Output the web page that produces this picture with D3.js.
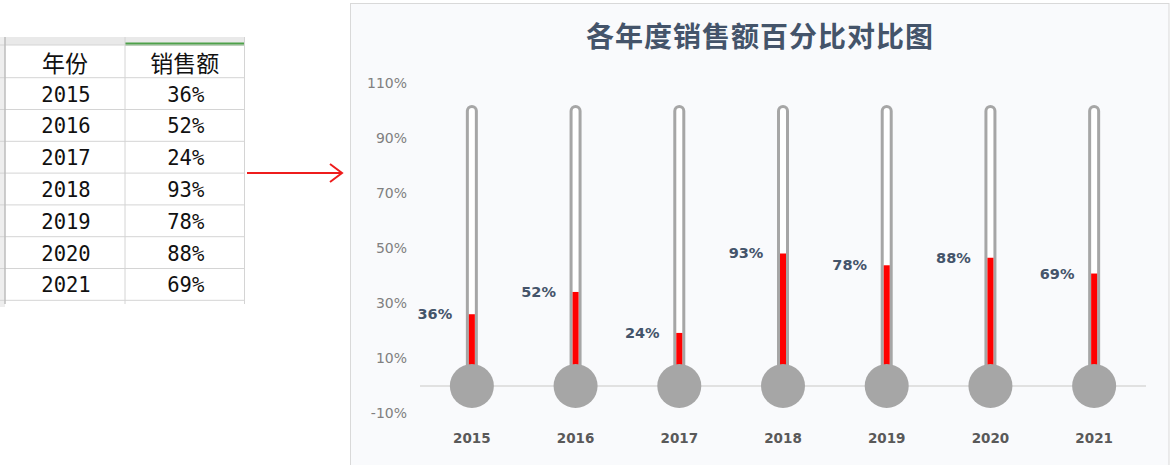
<!DOCTYPE html>
<html>
<head>
<meta charset="utf-8">
<script src="https://cdn.jsdelivr.net/npm/d3@7"></script>
<style>
  body { margin: 0; background: #fff; }
  svg { display: block; }
</style>
</head>
<body>
<div id="chart"></div>
<script>
// data
var years = ["2015", "2016", "2017", "2018", "2019", "2020", "2021"];
var sales = [0.36, 0.52, 0.24, 0.93, 0.78, 0.88, 0.69];
// height of the red column as it is drawn in the chart
var fillLevel = [0.261, 0.342, 0.193, 0.482, 0.439, 0.466, 0.409];
var tubeTop = 1.0;
var yTicks = [-0.1, 0.1, 0.3, 0.5, 0.7, 0.9, 1.1];
var tableHeader = ["年份", "销售额"];

var svgWidth = 1174;
var svgHeight = 465;

var svg = d3.select("#chart")
  .append("svg")
  .attr("width", svgWidth)
  .attr("height", svgHeight);

// ---- the spreadsheet on the left ----
var table = svg.append("g");
var colX = [5, 125, 244.5];
var headTop = 45, headH = 32.7, rowH = 31.8;
var rowsY = [headTop, headTop + headH];
years.forEach(function(d, i) { rowsY.push(headTop + headH + rowH * (i + 1)); });

// column header band + row header strip
table.append("rect").attr("x", 0).attr("y", 37).attr("width", 244.5).attr("height", 8).attr("fill", "#e9e9e9");
table.append("rect").attr("x", 0).attr("y", 37).attr("width", 5).attr("height", 270).attr("fill", "#eeeeee");
table.append("line").attr("x1", 125).attr("x2", 244.5).attr("y1", 44).attr("y2", 44)
  .attr("stroke", "#4ea24a").attr("stroke-width", 3);

table.selectAll(".hline")
  .data(rowsY)
  .enter()
  .append("line")
  .attr("x1", 0).attr("x2", 244.5)
  .attr("y1", d => d).attr("y2", d => d)
  .attr("stroke", "#d4d4d4").attr("stroke-width", 1);

table.selectAll(".vline")
  .data(colX)
  .enter()
  .append("line")
  .attr("x1", d => d).attr("x2", d => d)
  .attr("y1", 37).attr("y2", 304)
  .attr("stroke", d => d === 5 ? "#bdbdbd" : "#d4d4d4").attr("stroke-width", d => d === 5 ? 1.5 : 1);

table.selectAll(".head")
  .data(tableHeader)
  .enter()
  .append("text")
  .attr("x", (d, i) => (colX[i] + colX[i + 1]) / 2)
  .attr("y", headTop + headH / 2 + 1)
  .attr("text-anchor", "middle")
  .attr("dominant-baseline", "central")
  .attr("font-family", "Noto Sans CJK SC")
  .attr("font-size", "23px")
  .attr("fill", "#111")
  .text(d => d);

years.forEach(function(yr, i) {
  var cy = headTop + headH + rowH * i + rowH / 2 + 1;
  [yr, Math.round(sales[i] * 100) + "%"].forEach(function(t, c) {
    table.append("text")
      .attr("x", (colX[c] + colX[c + 1]) / 2 + 1)
      .attr("y", cy)
      .attr("text-anchor", "middle")
      .attr("dominant-baseline", "central")
      .attr("font-family", "DejaVu Sans Mono")
      .attr("font-size", "20.5px")
      .attr("fill", "#111")
      .text(t);
  });
});

// red arrow
var arrow = svg.append("g").attr("stroke", "#ee1c1c").attr("stroke-width", 2).attr("fill", "none");
arrow.append("line").attr("x1", 247).attr("x2", 341).attr("y1", 173).attr("y2", 173);
arrow.append("polyline").attr("points", "330,164 342,173 330,182");

// ---- the thermometer chart ----
svg.append("rect")
  .attr("x", 350.5).attr("y", 3.5)
  .attr("width", 818.5).attr("height", 470)
  .attr("fill", "#f9fafc")
  .attr("stroke", "#d9d9d9");

svg.append("text")
  .attr("x", 760)
  .attr("y", 35)
  .attr("text-anchor", "middle")
  .attr("dominant-baseline", "central")
  .attr("font-family", "Noto Sans CJK SC")
  .attr("font-weight", "bold")
  .attr("font-size", "28px")
  .attr("letter-spacing", "1px")
  .attr("fill", "#44546a")
  .text("各年度销售额百分比对比图");

var x = d3.scaleBand().domain(years).range([420, 1146]);
var y = d3.scaleLinear().domain([-0.1, 1.1]).range([413.5, 83.5]);

// y axis
var yAxis = svg.append("g")
  .attr("transform", "translate(420,0)")
  .call(d3.axisLeft(y).tickValues(yTicks)
    .tickFormat(d => Math.round(d * 100) + "%")
    .tickSize(0).tickPadding(13));
yAxis.select(".domain").remove();
yAxis.selectAll("text")
  .attr("font-family", "DejaVu Sans")
  .attr("font-size", "14px")
  .attr("fill", "#808080");

// baseline at 0%
svg.append("line")
  .attr("x1", 420).attr("x2", 1146)
  .attr("y1", y(0)).attr("y2", y(0))
  .attr("stroke", "#d9d9d9").attr("stroke-width", 1.5);

// x axis labels
var xAxis = svg.append("g")
  .attr("transform", "translate(0,438)")
  .call(d3.axisBottom(x).tickSize(0).tickPadding(0));
xAxis.select(".domain").remove();
xAxis.selectAll("text")
  .attr("y", 0)
  .attr("dy", "0.35em")
  .attr("font-family", "DejaVu Sans")
  .attr("font-weight", "bold")
  .attr("font-size", "13.5px")
  .attr("fill", "#595959");

var cx = d => x(d) + x.bandwidth() / 2;

var therm = svg.append("g").selectAll("g")
  .data(years)
  .enter()
  .append("g");

// tube outline
therm.append("line")
  .attr("x1", cx).attr("x2", cx)
  .attr("y1", y(0)).attr("y2", y(tubeTop))
  .attr("stroke", "#a6a6a6").attr("stroke-width", 12)
  .attr("stroke-linecap", "round");

// tube inside
therm.append("line")
  .attr("x1", cx).attr("x2", cx)
  .attr("y1", y(0)).attr("y2", y(tubeTop))
  .attr("stroke", "#ffffff").attr("stroke-width", 6)
  .attr("stroke-linecap", "round");

// red column
therm.append("line")
  .attr("x1", cx).attr("x2", cx)
  .attr("y1", y(0))
  .attr("y2", (d, i) => y(fillLevel[i]))
  .attr("stroke", "#ff0000").attr("stroke-width", 6);

// bulb
therm.append("circle")
  .attr("cx", cx)
  .attr("cy", y(0))
  .attr("r", 22)
  .attr("fill", "#a6a6a6");

// value labels
therm.append("text")
  .attr("x", d => cx(d) - 37)
  .attr("y", (d, i) => y(fillLevel[i]))
  .attr("text-anchor", "middle")
  .attr("dominant-baseline", "central")
  .attr("font-family", "DejaVu Sans")
  .attr("font-weight", "bold")
  .attr("font-size", "14.5px")
  .attr("fill", "#44546a")
  .text((d, i) => Math.round(sales[i] * 100) + "%");
</script>
</body>
</html>
